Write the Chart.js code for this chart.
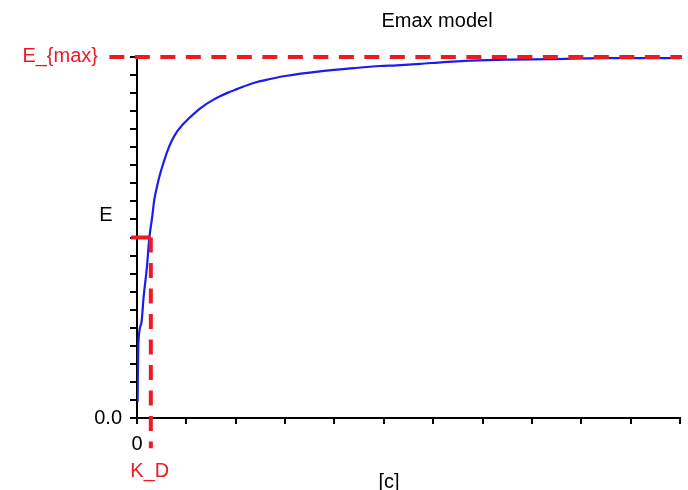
<!DOCTYPE html>
<html>
<head>
<meta charset="utf-8">
<script src="https://cdn.jsdelivr.net/npm/chart.js@4.4.1/dist/chart.umd.min.js"></script>
<style>
  html, body { margin: 0; padding: 0; background: #ffffff; }
  #wrap { width: 688px; height: 490px; position: relative; }
</style>
</head>
<body>
<div id="wrap"><canvas id="c" width="688" height="490"></canvas></div>
<script>
// ---- data ----
const concX = [0.012, 0.026, 0.087, 0.134, 0.202, 0.249, 0.304, 0.350, 0.411, 0.472, 0.532, 0.607, 0.694, 0.810, 0.907, 1.012, 1.140, 1.281, 1.551, 1.854, 2.024, 2.360, 2.698, 3.036, 3.711, 4.385, 4.925, 5.263, 5.735, 6.206, 6.747, 7.490, 8.370, 9.445, 11.0];
const effectY = [0.044, 0.202, 0.262, 0.335, 0.420, 0.498, 0.553, 0.604, 0.645, 0.678, 0.705, 0.736, 0.765, 0.793, 0.810, 0.825, 0.841, 0.858, 0.882, 0.902, 0.911, 0.928, 0.939, 0.948, 0.960, 0.969, 0.975, 0.977, 0.981, 0.986, 0.990, 0.993, 0.994, 0.997, 0.997];
const emaxValue = 1.0;
const kdValue = 0.28;
const halfEffect = 0.5;
// reference-line extents (data units)
const emaxLineX = [-0.56, 11.04];
const kdHLineX = [-0.12, kdValue];
const kdVLineY = [halfEffect, -0.084];
// axis ranges / ticks
const xRange = [0, 11];
const xStep = 1;
const yRange = [0, 1];
const yStep = 0.05;
const texts = { title: 'Emax model', yTitle: 'E', xTitle: '[c]', emax: 'E_{max}', kd: 'K_D', y0: '0.0', x0: '0' };

const FONT = '"Liberation Sans", Arial, sans-serif';
const FS = 20;
const RED = 'rgb(238,26,34)';
const BLUE = '#1c1cf0';

const curve = concX.map((x, i) => ({ x: x, y: effectY[i] }));

const textPlugin = {
  id: 'texts',
  afterDraw(chart) {
    const ctx = chart.ctx;
    const xs = chart.scales.x, ys = chart.scales.y;
    ctx.save();
    ctx.font = FS + 'px ' + FONT;
    ctx.textBaseline = 'middle';
    ctx.fillStyle = '#000';
    ctx.textAlign = 'center';
    ctx.fillText(texts.title, 437, 21);
    ctx.fillText(texts.yTitle, 106, 215);
    ctx.fillText(texts.xTitle, 389, 482);
    ctx.fillStyle = RED;
    ctx.textAlign = 'right';
    ctx.fillText(texts.emax, 98, ys.getPixelForValue(emaxValue) - 1);
    ctx.textAlign = 'center';
    ctx.fillText(texts.kd, xs.getPixelForValue(kdValue) - 1, 471);
    ctx.restore();
  }
};

new Chart(document.getElementById('c'), {
  type: 'scatter',
  data: {
    datasets: [
      {
        data: emaxLineX.map(x => ({ x: x, y: emaxValue })),
        showLine: true, borderColor: RED, borderWidth: 4, borderDash: [15, 10.5],
        pointRadius: 0, clip: false, order: 0
      },
      {
        data: kdHLineX.map(x => ({ x: x, y: halfEffect })),
        showLine: true, borderColor: RED, borderWidth: 4,
        pointRadius: 0, clip: false, order: 0
      },
      {
        data: kdVLineY.map(y => ({ x: kdValue, y: y })),
        showLine: true, borderColor: RED, borderWidth: 4, borderDash: [15, 10.5],
        pointRadius: 0, clip: false, order: 0
      },
      {
        data: curve,
        showLine: true, borderColor: BLUE, borderWidth: 2.2,
        cubicInterpolationMode: 'monotone',
        pointRadius: 0, order: 1
      }
    ]
  },
  options: {
    responsive: false,
    animation: false,
    events: [],
    layout: { padding: { left: 0, right: 8, top: 57, bottom: 0 } },
    plugins: { legend: { display: false }, title: { display: false }, tooltip: { enabled: false } },
    scales: {
      x: {
        type: 'linear', min: xRange[0], max: xRange[1],
        ticks: {
          stepSize: xStep, autoSkip: false, maxRotation: 0,
          font: { family: FONT, size: FS }, color: '#000', padding: 8,
          callback: v => (Math.abs(v) < 1e-9 ? texts.x0 : '')
        },
        grid: { drawOnChartArea: false, drawTicks: true, tickLength: 6, color: '#000', lineWidth: 2 },
        border: { display: true, color: '#000', width: 2 },
        afterFit: s => { s.height = 72; }
      },
      y: {
        type: 'linear', min: yRange[0], max: yRange[1],
        ticks: {
          stepSize: yStep, autoSkip: false,
          font: { family: FONT, size: FS }, color: '#000', padding: 8,
          callback: v => (Math.abs(v) < 1e-9 ? texts.y0 : '')
        },
        grid: { drawOnChartArea: false, drawTicks: true, tickLength: 7, color: '#000', lineWidth: 2 },
        border: { display: true, color: '#000', width: 2 },
        afterFit: s => { s.width = 137; }
      }
    }
  },
  plugins: [textPlugin]
});
</script>
</body>
</html>
